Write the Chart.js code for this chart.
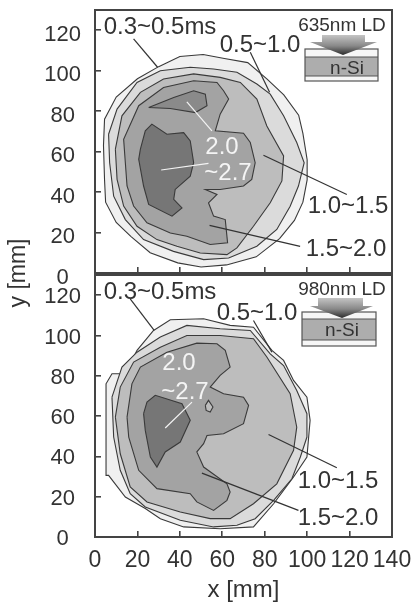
<!DOCTYPE html>
<html><head><meta charset="utf-8">
<style>html,body{margin:0;padding:0;background:#fff;width:414px;height:605px;overflow:hidden}
canvas{position:absolute;left:0;top:0;filter:blur(0.7px)}</style>
<script src="https://cdn.jsdelivr.net/npm/chart.js@4"></script>
</head><body>
<canvas id="a" width="414" height="605"></canvas>
<canvas id="b" width="414" height="605"></canvas>
<script>
const xTicks=[0,20,40,60,80,100,120,140];
const yTicks=[0,20,40,60,80,100,120];
// Lifetime contours, 635 nm panel
const top03=[[30,102],[40,107],[51,108],[61,106],[72,104],[81,96],[89,88],[96,78],[98,69],[100,56],[100,46],[98,35],[94,26],[87,17],[76,8],[62,4],[50,3],[39,5],[26,10],[17,18],[10,25],[5,35],[4.5,46],[4,63],[4.5,76],[10,87],[20,96]];
const top05=[[6.4,68.6],[10.4,81],[19.8,94.2],[30.8,100],[44.9,101.7],[55.9,100.8],[66.9,99.2],[76.3,93.4],[82.6,88.4],[88.9,77.7],[95.1,64.5],[98.6,54.5],[95.9,43],[92,33],[85.7,21.5],[76.3,13.2],[63,7.4],[51.2,6.6],[37,10.7],[22.9,16.5],[14.3,26.4],[8.8,38],[6.9,54.5]];
const top10=[[9.6,61.2],[12.7,77.7],[21.4,89.3],[32.3,95.9],[46.5,98.4],[59,96.7],[68.5,94.2],[76.3,86],[81,72.7],[88.9,57.9],[88.1,45.5],[82.6,34.7],[74.7,23.1],[66.9,12.4],[62.2,9.1],[49.6,9.9],[38.6,13.2],[29.2,16.5],[19.8,23.1],[13.5,33.1],[10.4,46.3]];
const top15=[[14.3,54.5],[13.5,66.1],[20.6,82.7],[32.3,91.7],[46.5,95],[57.5,94.2],[60.6,90.1],[63,86],[59,78.5],[56.7,70.3],[70,69.1],[73.2,64.5],[75.5,54.5],[73.9,46.3],[70,43],[59,41.3],[52,41.3],[57.5,38.8],[53.5,34.7],[55.9,28.1],[61.4,26.4],[62.5,14.9],[54.3,14.1],[43.3,18.2],[35.5,19.8],[24.5,24.8],[18.2,33.1],[15.1,43]];
const top20a=[[25.3,81.8],[37.1,86.8],[46.5,90.1],[52,88.4],[52.8,82.7],[47.3,79.3],[35.5,81.3]];
const top20b=[[21.4,61.2],[23.7,70.3],[26.8,73.6],[33.9,68.6],[41.8,69.4],[44.9,65.3],[46.5,54.5],[44.9,47.9],[37.8,41.3],[37.1,36.4],[41,32.2],[36.3,28.1],[25.3,33.9],[22.9,43],[20.6,56.2]];
// Lifetime contours, 980 nm panel
const bot03=[[27.6,102.5],[35.5,107.8],[51.2,108.3],[63.7,105],[74.7,104.1],[83.4,92.6],[88.9,87.6],[93.6,77.7],[99.9,69.4],[101.4,57.9],[99.9,39.7],[93.6,29.8],[84.2,16.5],[74.7,5],[59,4.1],[41.8,5],[30.8,9.1],[23.7,14.1],[14.3,19.8],[6.4,30.6],[5.2,30.6],[5.2,76],[8,81],[14.3,81],[19.8,92.6]];
const bot05=[[8,69.4],[12.7,84.3],[19.8,91.7],[30.8,99.2],[43.3,105],[59,103.3],[73.2,102.5],[82.6,90.9],[88.9,85.1],[95.1,72.7],[99.9,61.2],[99.9,49.6],[96.8,39.7],[92.8,28.9],[84.2,18.2],[75.5,9.1],[66.9,5.8],[55.9,5],[40.2,8.3],[23.7,14.9],[16.6,21.5],[11.9,33.1],[8.8,49.6]];
const bot10=[[9.6,59.5],[11.9,74.4],[18.2,86.8],[30.8,94.2],[43.3,100],[59,100],[74.7,98.4],[81,89.3],[92,71.1],[95.1,54.5],[93.6,43],[85.7,26.4],[74.7,16.5],[63.7,9.1],[54.3,9.1],[40.2,12.4],[24.5,17.4],[16.6,24.8],[11.9,41.3]];
const bot15=[[15.1,59.5],[17.4,76],[21.4,84.3],[33.9,91.7],[48,96.2],[57.5,95.9],[61.4,92.6],[63.7,84.3],[59,80.2],[54.3,74.4],[60.6,71.1],[70,69.4],[72.4,65.3],[70,56.2],[60.6,51.2],[52.8,50.4],[51.2,46.3],[48,42.2],[51.2,34.7],[62.2,26.4],[63.7,22.3],[62.2,18.2],[55.9,13.2],[48,17.4],[44.9,21.5],[29.2,24],[20.6,33.1],[15.9,49.6]];
const bot20=[[22.9,61.2],[24.5,66.9],[28.4,70.3],[41,66.1],[44.9,57.9],[40.2,47.1],[33.1,42.2],[29.2,34.7],[26.1,39.7],[23.7,52.9]];
const botHole=[[52,65.3],[53.5,67.8],[55.6,64.5],[54.3,62],[52.4,62.8]];
// Leader lines
const topLeadDark=[[[18.2,115.7],[29.5,101.7]],[[73.2,109.1],[82.3,89.3]],[[79.4,58.2],[118.7,38.8]],[[54,23.5],[96.7,13.2]]];
const topLeadWhite=[[[43.3,84.6],[55.1,70.3]],[[31.2,50.9],[53.5,54.2]]];
const botLeadDark=[[[16.6,118.2],[27.9,102.5]],[[74.7,107.4],[83.4,91.7]],[[81.8,50.9],[114,34.4]],[[50.4,31.7],[95.9,13.2]]];
const botLeadWhite=[[[33.1,54.1],[45.7,66.9]]];

const C={l03:'#f0f0f0',l05:'#dbdbdb',l10:'#bdbdbd',l15:'#a3a3a3',l20:'#767676',edge:'#3a3a3a',text:'#333333'};
const FONT='"Liberation Sans", Arial, sans-serif';

function poly(pts,color,order){
  return {data:[...pts,pts[0]].map(p=>({x:p[0],y:p[1]})),showLine:true,fill:'shape',backgroundColor:color,
    borderColor:C.edge,borderWidth:1.1,pointRadius:0,order,tension:0};
}
function lead(pair,color){
  return {data:pair.map(p=>({x:p[0],y:p[1]})),showLine:true,fill:false,borderColor:color,borderWidth:1.2,pointRadius:0,order:0};
}
function overlay(cfg){
  return {id:'overlay',afterDatasetsDraw(chart){
    const c=chart.ctx,a=chart.chartArea;
    c.save();
    c.strokeStyle='#444';c.lineWidth=2;c.strokeRect(a.left,a.top,a.right-a.left,a.bottom-a.top);
    // inset device sketch
    const s=cfg.inset;
    c.fillStyle='#f6f6f6';c.fillRect(s.x0,s.y0,s.x1-s.x0,s.y3-s.y0);
    c.fillStyle='#adadad';c.fillRect(s.x0,s.y1,s.x1-s.x0,s.y2-s.y1);
    c.strokeStyle='#555';c.lineWidth=1.2;
    c.strokeRect(s.x0,s.y0,s.x1-s.x0,s.y3-s.y0);
    c.beginPath();c.moveTo(s.x0,s.y1);c.lineTo(s.x1,s.y1);c.moveTo(s.x0,s.y2);c.lineTo(s.x1,s.y2);c.stroke();
    const ar=s.arrow,g=c.createLinearGradient(0,ar.top,0,ar.tipY);
    g.addColorStop(0,'#c4c4c4');g.addColorStop(0.55,'#888');g.addColorStop(1,'#2c2c2c');
    c.fillStyle=g;c.beginPath();
    c.moveTo(ar.sl,ar.top);c.lineTo(ar.sr,ar.top);c.lineTo(ar.sr,ar.neck);c.lineTo(ar.hr,ar.neck);
    c.lineTo(ar.tipX,ar.tipY);c.lineTo(ar.hl,ar.neck);c.lineTo(ar.sl,ar.neck);c.closePath();c.fill();
    // texts
    c.textAlign='center';c.textBaseline='middle';
    for(const t of cfg.texts){
      c.font=t.size+'px '+FONT;c.fillStyle=t.color||C.text;c.fillText(t.s,t.x,t.y);
    }
    if(cfg.yTitle){
      c.translate(19,273);c.rotate(-Math.PI/2);c.font='23px '+FONT;c.fillStyle=C.text;c.fillText('y [mm]',0,0);
    }
    c.restore();
  }};
}
function noPad(s){s.paddingLeft=s.paddingRight=s.paddingTop=s.paddingBottom=0}
function make(id,datasets,o){
  return new Chart(document.getElementById(id),{type:'scatter',data:{datasets},plugins:[overlay(o.cfg)],options:{
    responsive:false,animation:false,events:[],
    layout:{padding:o.padding},
    plugins:{legend:{display:false},title:{display:false},tooltip:{enabled:false}},
    scales:{
      x:{min:0,max:140,afterBuildTicks:s=>{s.ticks=xTicks.map(v=>({value:v}))},
        afterFit:s=>{s.height=o.xh;noPad(s)},
        grid:{drawOnChartArea:false,drawTicks:true,tickLength:-6,color:'#444',lineWidth:1.6},border:{display:false},
        ticks:{display:o.xlabels,autoSkip:false,maxRotation:0,padding:15.5,color:C.text,font:{family:FONT,size:23}},
        title:{display:o.xlabels,text:'x [mm]',color:C.text,font:{family:FONT,size:24},padding:{top:0,bottom:0}}},
      y:{min:0,max:130,afterBuildTicks:s=>{s.ticks=yTicks.map(v=>({value:v}))},
        afterFit:s=>{s.width=95;noPad(s)},
        grid:{drawOnChartArea:false,drawTicks:true,tickLength:-6,color:'#444',lineWidth:1.6},border:{display:false},
        ticks:{autoSkip:false,padding:20,crossAlign:'center',labelOffset:o.yOff,color:C.text,font:{family:FONT,size:22}}}
    }}});
}
make('a',[
  ...topLeadDark.map(p=>lead(p,'#333')),...topLeadWhite.map(p=>lead(p,'#f4f4f4')),
  poly(top20a,'#8a8a8a',1),poly(top20b,C.l20,1),poly(top15,C.l15,2),poly(top10,C.l10,3),poly(top05,C.l05,4),poly(top03,C.l03,5)
],{padding:{left:0,top:10,right:22,bottom:332},xh:0,xlabels:false,yOff:4.5,cfg:{yTitle:true,
  inset:{x0:305,x1:378,y0:49,y1:57,y2:76,y3:81,arrow:{sl:322,sr:365,top:35,neck:42,hl:310,hr:377,tipX:343,tipY:55}},
  texts:[{s:'0.3~0.5ms',x:160,y:27,size:24},{s:'0.5~1.0',x:260,y:45,size:24},{s:'635nm LD',x:342,y:26,size:19},
    {s:'n-Si',x:347,y:69,size:19},{s:'2.0',x:222,y:147,size:24,color:'#f4f4f4'},{s:'~2.7',x:228,y:173,size:24,color:'#f4f4f4'},
    {s:'1.0~1.5',x:348,y:206,size:24},{s:'1.5~2.0',x:346,y:249,size:24}]}});
make('b',[
  ...botLeadDark.map(p=>lead(p,'#333')),...botLeadWhite.map(p=>lead(p,'#f4f4f4')),
  poly(botHole,C.l10,1),poly(bot20,C.l20,2),poly(bot15,C.l15,3),poly(bot10,C.l10,4),poly(bot05,C.l05,5),poly(bot03,C.l03,6)
],{padding:{left:0,top:275,right:22,bottom:0},xh:68,xlabels:true,yOff:2,cfg:{yTitle:false,
  inset:{x0:302,x1:376,y0:312,y1:319,y2:340,y3:346,arrow:{sl:318,sr:363,top:298,neck:306,hl:310,hr:373,tipX:342,tipY:318}},
  texts:[{s:'0.3~0.5ms',x:160,y:292,size:24},{s:'0.5~1.0',x:257,y:313,size:24},{s:'980nm LD',x:342,y:290,size:19},
    {s:'n-Si',x:342,y:331,size:19},{s:'2.0',x:179,y:363,size:24,color:'#f4f4f4'},{s:'~2.7',x:185,y:392,size:24,color:'#f4f4f4'},
    {s:'1.0~1.5',x:338,y:481,size:24},{s:'1.5~2.0',x:338,y:518,size:24}]}});
</script>
</body></html>
